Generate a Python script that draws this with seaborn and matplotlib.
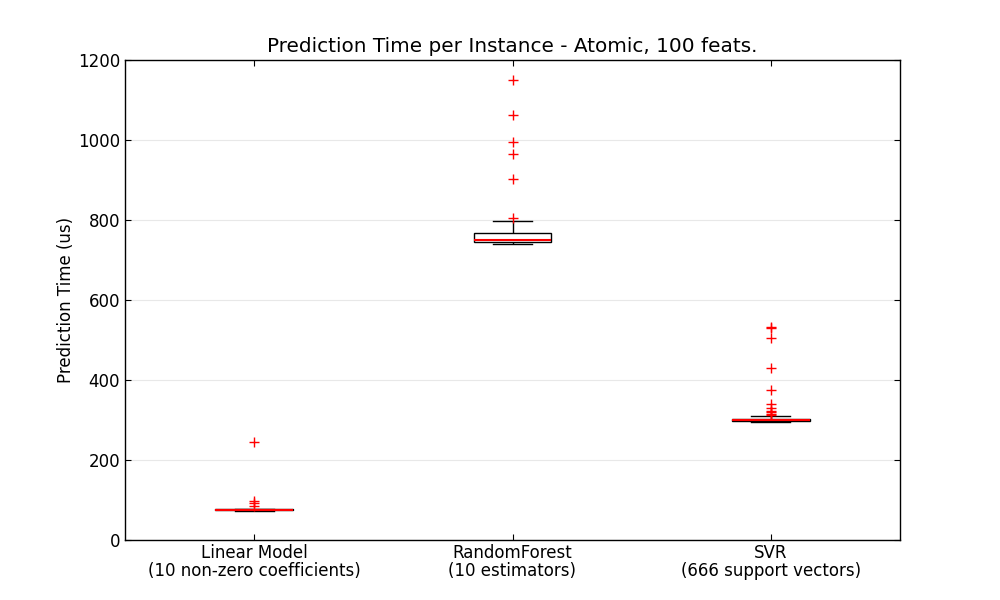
import pandas as pd
import matplotlib
matplotlib.use("Agg")
import matplotlib.pyplot as plt
import seaborn as sns

# Prediction latencies (us) per estimator
model_labels = [
    "Linear Model\n(10 non-zero coefficients)",
    "RandomForest\n(10 estimators)",
    "SVR\n(666 support vectors)",
]

linear_times = [72, 73, 73, 73, 73, 74, 74, 74, 74, 75, 75, 75, 75, 75,
                76, 76, 76, 77, 77, 78, 86, 92, 98, 245]

forest_times = [740, 741, 741, 742, 742, 743, 743, 743, 744, 744, 745, 745,
                746, 746, 747, 747, 748, 749, 749, 750, 752, 754, 757, 760,
                763, 765, 767, 768, 780, 797, 804, 902, 964, 996, 1062, 1150]

svr_times = [294, 295, 295, 295, 296, 296, 296, 296, 296, 297, 297, 297, 297,
             297, 298, 298, 298, 298, 298, 299, 299, 299, 299, 299, 299, 300,
             300, 300, 301, 301, 301, 301, 301, 302, 302, 302, 302, 303, 303,
             310, 313, 316, 319, 322, 331, 339, 375, 429, 504, 529, 533]

# --------------------------------------------
# Long-form table for seaborn
# --------------------------------------------
rows = []
for label, times in zip(model_labels, [linear_times, forest_times, svr_times]):
    for t in times:
        rows.append({"model": label, "time": t})
df = pd.DataFrame(rows)

plt.rcParams["font.family"] = ["DejaVu Sans"]
plt.rcParams["font.size"] = 12

fig = plt.figure(figsize=(10, 6), dpi=100)
ax = fig.add_axes([0.125, 0.1, 0.775, 0.8])

sns.boxplot(
    data=df, x="model", y="time", order=model_labels,
    width=0.3, color="white", linecolor="black", linewidth=1, whis=1.5,
    medianprops=dict(color="red", linewidth=1.5),
    flierprops=dict(marker="+", markeredgecolor="red", markerfacecolor="red",
                    markersize=7, markeredgewidth=1),
    ax=ax,
)

ax.yaxis.grid(True, linestyle="-", which="major", color="lightgrey", alpha=0.5)
ax.set_axisbelow(True)
ax.set_ylim(0, 1200)
ax.set_xlim(-0.5, 2.5)
ax.set_yticks(range(0, 1201, 200))
ax.tick_params(direction="in", length=4, top=True, right=True, labelsize=12)
ax.tick_params(axis="x", pad=3)
for lbl in ax.get_xticklabels():
    lbl.set_linespacing(1.0)
for spine in ax.spines.values():
    spine.set_linewidth(1)
    spine.set_color("black")

ax.set_xlabel("")
ax.set_ylabel("Prediction Time (us)", fontsize=12, labelpad=2)
ax.set_title("Prediction Time per Instance - Atomic, 100 feats.", fontsize=14.4)

fig.savefig("out.png", dpi=100)
plt.close(fig)
